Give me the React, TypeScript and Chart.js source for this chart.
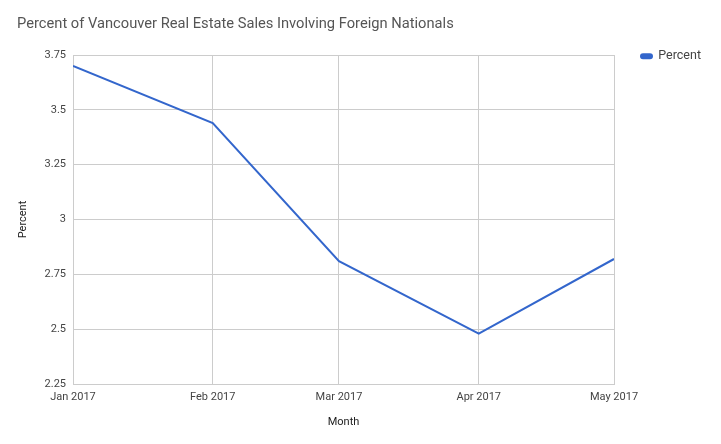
import React, { useEffect, useRef } from 'react';
import { Chart, registerables } from 'chart.js';

Chart.register(...registerables);

const chartTitle = 'Percent of Vancouver Real Estate Sales Involving Foreign Nationals';
const seriesName = 'Percent';
const monthDates = ['2017-01-01', '2017-02-01', '2017-03-01', '2017-04-01', '2017-05-01'];
const monthLabels = ['Jan 2017', 'Feb 2017', 'Mar 2017', 'Apr 2017', 'May 2017'];
const percentValues = [3.7, 3.44, 2.81, 2.48, 2.82];
const yTicks = [2.25, 2.5, 2.75, 3, 3.25, 3.5, 3.75];

const DAY = 86400000;
const dayOffset = (d: string) => (Date.parse(d) - Date.parse(monthDates[0])) / DAY;
const xPositions = monthDates.map(dayOffset);

const legendWidthPlugin = {
  id: 'legendWidth',
  beforeLayout(chart: any) {
    const lg = chart.legend;
    if (lg && !lg._patchedFit) {
      const orig = lg.fit.bind(lg);
      lg.fit = () => {
        orig();
        lg.width = 99;
      };
      lg._patchedFit = true;
    }
  },
};

export default function App() {
  const ref = useRef<HTMLCanvasElement | null>(null);

  useEffect(() => {
    if (!ref.current) return;
    const font = 'Roboto, "Noto Sans", Arial, sans-serif';
    const chart = new Chart(ref.current, {
      type: 'line',
      data: {
        datasets: [
          {
            label: seriesName,
            data: xPositions.map((x, i) => ({ x, y: percentValues[i] })),
            borderColor: '#3366cc',
            backgroundColor: '#3366cc',
            borderWidth: 2,
            pointRadius: 0,
            tension: 0,
          },
        ],
      },
      plugins: [legendWidthPlugin],
      options: {
        animation: false,
        responsive: true,
        maintainAspectRatio: false,
        layout: { padding: { left: 9, right: 0, top: 0, bottom: 0 } },
        plugins: {
          title: {
            display: true,
            text: chartTitle,
            align: 'start',
            color: '#555555',
            font: { family: font, size: 14.7, weight: 'normal' },
            padding: { top: 8, bottom: 21.4 },
          },
          legend: {
            position: 'right',
            align: 'start',
            title: { display: true, text: '', font: { size: 10 }, padding: { top: 3, bottom: 0 } },
            labels: {
              color: '#444444',
              font: { family: font, size: 12.5 },
              boxWidth: 11,
              boxHeight: 4,
              padding: 27,
              useBorderRadius: true,
              borderRadius: 2,
            },
          },
          tooltip: { enabled: false },
        },
        scales: {
          x: {
            type: 'linear',
            min: xPositions[0],
            max: xPositions[xPositions.length - 1],
            afterBuildTicks: (scale: any) => {
              scale.ticks = xPositions.map((v) => ({ value: v }));
            },
            afterFit: (scale: any) => {
              scale.height = 52;
            },
            ticks: {
              color: '#444444',
              font: { family: font, size: 11 },
              padding: 7,
              maxRotation: 0,
              autoSkip: false,
              callback: (v: any) => {
                const i = xPositions.indexOf(Number(v));
                return i >= 0 ? monthLabels[i] : '';
              },
            },
            grid: { color: '#cccccc', drawTicks: false },
            border: { color: '#cccccc' },
            title: {
              display: true,
              text: 'Month',
              color: '#222222',
              font: { family: font, size: 11 },
              padding: { top: 0, bottom: 7 },
            },
          },
          y: {
            min: yTicks[0],
            max: yTicks[yTicks.length - 1],
            afterBuildTicks: (scale: any) => {
              scale.ticks = yTicks.map((v) => ({ value: v }));
            },
            afterFit: (scale: any) => {
              scale.width = 56;
            },
            ticks: {
              color: '#444444',
              font: { family: font, size: 11 },
              padding: 7,
              callback: (v: any) => String(v),
            },
            grid: { color: '#cccccc', drawTicks: false },
            border: { color: '#cccccc' },
            title: {
              display: true,
              text: 'Percent',
              color: '#222222',
              font: { family: font, size: 11 },
              padding: 0,
            },
          },
        },
      },
    });
    return () => chart.destroy();
  }, []);

  return (
    <div style={{ width: 705, height: 428, position: 'relative' }}>
      <canvas ref={ref} />
    </div>
  );
}
